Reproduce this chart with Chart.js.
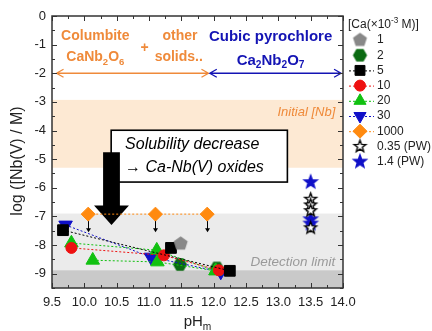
<!DOCTYPE html>
<html><head><meta charset="utf-8">
<script src="https://cdn.jsdelivr.net/npm/chart.js@4/dist/chart.umd.min.js"></script>
<style>html,body{margin:0;padding:0;background:#fff;}canvas{display:block;}</style>
</head><body>
<canvas id="c" width="432" height="331"></canvas>
<script>
// ---------- data ----------
const xTicks = [9.5,10.0,10.5,11.0,11.5,12.0,12.5,13.0,13.5,14.0];
const yTicks = [0,-1,-2,-3,-4,-5,-6,-7,-8,-9];
const seriesLabels = ['1','2','5','10','20','30','1000','0.35 (PW)','1.4 (PW)'];
const ca1 = [{x:11.49,y:-7.95}];
const ca2 = [{x:12.05,y:-8.80},{x:11.48,y:-8.68}];
const ca5 = [{x:9.67,y:-7.48},{x:12.25,y:-8.90},{x:12.25,y:null},{x:11.34,y:-8.10}];
const ca10 = [{x:9.80,y:-8.10},{x:11.23,y:-8.36},{x:12.08,y:-8.88}];
const ca20 = [{x:9.80,y:-7.93},{x:11.12,y:-8.18},{x:12.03,y:-8.90},{x:12.03,y:null},{x:10.13,y:-8.53},{x:11.13,y:-8.59},{x:12.03,y:-8.90}];
const ca30 = [{x:9.71,y:-7.30},{x:11.03,y:-8.42},{x:12.11,y:-8.94}];
const ca1000 = [{x:10.06,y:-6.92},{x:11.10,y:-6.92},{x:11.90,y:-6.92}];
const pw035 = [{x:13.5,y:-6.40},{x:13.5,y:-6.60},{x:13.5,y:-6.80},{x:13.5,y:-7.40}];
const pw14 = [{x:13.5,y:-5.80},{x:13.5,y:-7.10},{x:13.5,y:-7.25}];
// bands / annotations (data units)
const initialNbBand = [-2.93,-5.30];
const detectBand = [-6.90,-8.88];
const detectDark = [-8.88,-9.5];

// ---------- custom marker images ----------
function polyImg(n, r, fill, stroke, rot, star){
  const s = Math.ceil(r*2+4), c = document.createElement('canvas');
  c.width = s; c.height = s;
  const g = c.getContext('2d'); const cx=s/2, cy=s/2;
  g.beginPath();
  const pts = star ? n*2 : n;
  for(let i=0;i<pts;i++){
    const a = -Math.PI/2 + rot + i*2*Math.PI/pts;
    const rr = star ? (i%2===0 ? r : r*0.42) : r;
    const px = cx + rr*Math.cos(a), py = cy + rr*Math.sin(a);
    if(i===0) g.moveTo(px,py); else g.lineTo(px,py);
  }
  g.closePath();
  g.fillStyle = fill; g.fill();
  g.lineWidth = 1.4; g.strokeStyle = stroke; g.stroke();
  return c;
}
const pentagon = polyImg(5, 6.5, '#888888', '#888888', 0, false);
const hexagon = polyImg(6, 6.3, '#0b6b12', '#0b6b12', Math.PI/6, false);
const starOpen = polyImg(5, 6.2, '#ffffff', '#000000', 0, true);
const starBlue = polyImg(5, 6.8, '#1010c8', '#1010c8', 0, true);

const COL = {gray:'#888888', dgreen:'#0b6b12', black:'#000000', red:'#ee1111', green:'#11c111', blue:'#1010c8', orange:'#ff8a10', text:'#222222'};
const ORANGE_T = '#ef8a3a', BLUE_T = '#1414b4';

function ds(label, data, color, style, radius, line, extra){
  return Object.assign({
    label, data, showLine: line, spanGaps:false,
    borderColor: color, backgroundColor: color,
    pointBackgroundColor: color, pointBorderColor: color,
    pointStyle: style, pointRadius: radius, pointHoverRadius: radius,
    pointBorderWidth: 1, borderWidth: 1, borderDash:[2,2]
  }, extra||{});
}

const datasets = [
  ds(seriesLabels[0], ca1, COL.gray, pentagon, 6, false),
  ds(seriesLabels[1], ca2, COL.dgreen, hexagon, 6, false, {order:10}),
  ds(seriesLabels[2], ca5, COL.black, 'rect', 7.6, true),
  ds(seriesLabels[3], ca10, COL.red, 'circle', 5.5, true),
  ds(seriesLabels[4], ca20, COL.green, 'triangle', 7.8, true),
  ds(seriesLabels[5], ca30, COL.blue, 'triangle', 7.8, true, {pointRotation:180}),
  ds(seriesLabels[6], ca1000, COL.orange, 'rectRot', 7, true),
  ds(seriesLabels[7], pw035, COL.black, starOpen, 6, false),
  ds(seriesLabels[8], pw14, COL.blue, starBlue, 6, false)
];

// ---------- helpers ----------
const FF = '"Liberation Sans", Arial, sans-serif';
function rich(ctx, parts, x, y, size, style, color, align){
  const meas = parts.map(p=>{
    const k = p[1]||null; const s = k ? size*0.68 : size;
    ctx.font = style+' '+s+'px '+FF;
    return {t:p[0], k, s, w:ctx.measureText(p[0]).width};
  });
  const W = meas.reduce((a,m)=>a+m.w,0);
  let cx = align==='left' ? x : align==='right' ? x-W : x-W/2;
  ctx.textAlign='left'; ctx.textBaseline='middle'; ctx.fillStyle=color;
  meas.forEach(m=>{
    ctx.font = style+' '+m.s+'px '+FF;
    const dy = m.k==='sub' ? size*0.32 : m.k==='sup' ? -size*0.33 : 0;
    ctx.fillText(m.t, cx, y+dy); cx += m.w;
  });
}
function dblArrow(ctx, x1, x2, y, color){
  ctx.save(); ctx.strokeStyle=color; ctx.lineWidth=1.3;
  ctx.beginPath(); ctx.moveTo(x1,y); ctx.lineTo(x2,y);
  ctx.moveTo(x1+7,y-4); ctx.lineTo(x1,y); ctx.lineTo(x1+7,y+4);
  ctx.moveTo(x2-7,y-4); ctx.lineTo(x2,y); ctx.lineTo(x2-7,y+4);
  ctx.stroke(); ctx.restore();
}

const decor = {
  id:'decor',
  beforeDatasetsDraw(chart){
    const {ctx, chartArea:a, scales:{x,y}} = chart;
    ctx.save();
    // bands
    ctx.fillStyle='#fde9d3';
    ctx.fillRect(a.left, y.getPixelForValue(initialNbBand[0]), a.width, y.getPixelForValue(initialNbBand[1])-y.getPixelForValue(initialNbBand[0]));
    ctx.fillStyle='#ebebeb';
    ctx.fillRect(a.left, y.getPixelForValue(detectBand[0]), a.width, y.getPixelForValue(detectBand[1])-y.getPixelForValue(detectBand[0]));
    ctx.fillStyle='#c9c9c9';
    ctx.fillRect(a.left, y.getPixelForValue(detectDark[0]), a.width, y.getPixelForValue(detectDark[1])-y.getPixelForValue(detectDark[0]));
    // band labels
    ctx.font='italic 13px '+FF; ctx.textAlign='right'; ctx.textBaseline='middle';
    ctx.fillStyle=ORANGE_T; ctx.fillText('Initial [Nb]', x.getPixelForValue(13.88), y.getPixelForValue(-3.36));
    ctx.fillStyle='#9a9a9a'; ctx.font='italic 13.5px '+FF;
    ctx.fillText('Detection limit', x.getPixelForValue(13.88), y.getPixelForValue(-8.6));
    // phase arrows
    const ya = y.getPixelForValue(-2);
    dblArrow(ctx, x.getPixelForValue(9.57), x.getPixelForValue(11.92), ya, ORANGE_T);
    dblArrow(ctx, x.getPixelForValue(11.94), x.getPixelForValue(13.97), ya, BLUE_T);
    // phase labels
    rich(ctx, [['Columbite']], x.getPixelForValue(10.17), y.getPixelForValue(-0.7), 14, 'bold', ORANGE_T, 'center');
    rich(ctx, [['CaNb'],['2','sub'],['O'],['6','sub']], x.getPixelForValue(10.17), y.getPixelForValue(-1.45), 14, 'bold', ORANGE_T, 'center');
    rich(ctx, [['+']], x.getPixelForValue(10.93), y.getPixelForValue(-1.12), 14, 'bold', ORANGE_T, 'center');
    rich(ctx, [['other']], x.getPixelForValue(11.48), y.getPixelForValue(-0.7), 14, 'bold', ORANGE_T, 'center');
    rich(ctx, [['solids..']], x.getPixelForValue(11.46), y.getPixelForValue(-1.45), 14, 'bold', ORANGE_T, 'center');
    rich(ctx, [['Cubic pyrochlore']], x.getPixelForValue(12.88), y.getPixelForValue(-0.73), 15, 'bold', BLUE_T, 'center');
    rich(ctx, [['Ca'],['2','sub'],['Nb'],['2','sub'],['O'],['7','sub']], x.getPixelForValue(12.88), y.getPixelForValue(-1.55), 15, 'bold', BLUE_T, 'center');
    // box
    const bx1=x.getPixelForValue(10.415), bx2=x.getPixelForValue(13.14), by1=y.getPixelForValue(-3.99), by2=y.getPixelForValue(-5.8);
    ctx.fillStyle='#ffffff'; ctx.fillRect(bx1,by1,bx2-bx1,by2-by1);
    ctx.strokeStyle='#000'; ctx.lineWidth=1.6; ctx.strokeRect(bx1,by1,bx2-bx1,by2-by1);
    rich(ctx, [['Solubility decrease']], x.getPixelForValue(10.63), y.getPixelForValue(-4.5), 16, 'italic', '#000', 'left');
    rich(ctx, [['\u2192 Ca-Nb(V) oxides']], x.getPixelForValue(10.63), y.getPixelForValue(-5.3), 16, 'italic', '#000', 'left');
    // big arrow
    ctx.fillStyle='#000';
    ctx.beginPath();
    ctx.moveTo(x.getPixelForValue(10.29), y.getPixelForValue(-4.76));
    ctx.lineTo(x.getPixelForValue(10.55), y.getPixelForValue(-4.76));
    ctx.lineTo(x.getPixelForValue(10.55), y.getPixelForValue(-6.62));
    ctx.lineTo(x.getPixelForValue(10.69), y.getPixelForValue(-6.62));
    ctx.lineTo(x.getPixelForValue(10.42), y.getPixelForValue(-7.3));
    ctx.lineTo(x.getPixelForValue(10.15), y.getPixelForValue(-6.62));
    ctx.lineTo(x.getPixelForValue(10.29), y.getPixelForValue(-6.62));
    ctx.closePath(); ctx.fill();
    ctx.restore();
  },
  afterDatasetsDraw(chart){
    const {ctx} = chart;
    ctx.save();
    // small arrows under 1000 mM points (upper limits)
    const meta = chart.getDatasetMeta(6);
    ctx.strokeStyle='#000'; ctx.fillStyle='#000'; ctx.lineWidth=1;
    meta.data.forEach(pt=>{
      const px=Math.round(pt.x)+0.5, p0=pt.y+7, p1=pt.y+18;
      ctx.beginPath(); ctx.moveTo(px,p0); ctx.lineTo(px,p1-3); ctx.stroke();
      ctx.beginPath(); ctx.moveTo(px-2.5,p1-4); ctx.lineTo(px+2.5,p1-4); ctx.lineTo(px,p1); ctx.closePath(); ctx.fill();
    });
    ctx.restore();
  },
  afterDraw(chart){
    const {ctx, chartArea:a, scales:{x,y}} = chart;
    ctx.save();
    ctx.strokeStyle='#333'; ctx.lineWidth=1.5;
    ctx.strokeRect(a.left, a.top, a.width, a.height);
    ctx.lineWidth=1;
    ctx.beginPath();
    for(let v=9.5; v<=14.0001; v+=0.25){
      const px = Math.round(x.getPixelForValue(v))+0.5;
      const L = Math.abs(v*2-Math.round(v*2))<1e-6 ? 5 : 3;
      ctx.moveTo(px,a.bottom); ctx.lineTo(px,a.bottom-L);
      ctx.moveTo(px,a.top); ctx.lineTo(px,a.top+L);
    }
    for(let v=0; v>=-9.5001; v-=0.5){
      const py = Math.round(y.getPixelForValue(v))+0.5;
      const L = Math.abs(v-Math.round(v))<1e-6 ? 5 : 3;
      ctx.moveTo(a.left,py); ctx.lineTo(a.left+L,py);
      ctx.moveTo(a.right,py); ctx.lineTo(a.right-L,py);
    }
    ctx.stroke();
    // axis titles
    rich(ctx, [['pH'],['m','sub']], (a.left+a.right)/2, 322, 15, '', '#222', 'center');
    ctx.translate(18, (a.top+a.bottom)/2+9);
    ctx.rotate(-Math.PI/2);
    rich(ctx, [['log ([Nb(V) / M)']], 0, 0, 16, '', '#222', 'center');
    ctx.restore();
    // legend
    ctx.save();
    const lx = a.right + 5;
    rich(ctx, [['[Ca(\u00d710'],['-3','sup'],[' M)]']], lx, 25, 12, '', '#222', 'left');
    chart.data.datasets.forEach((d,i)=>{
      const yy = 40 + i*15.2, mx = lx+12;
      if(d.showLine){
        ctx.save(); ctx.strokeStyle=d.borderColor; ctx.lineWidth=1; ctx.setLineDash([2,2]);
        ctx.beginPath(); ctx.moveTo(lx+1,yy+0.5); ctx.lineTo(lx+26,yy+0.5); ctx.stroke(); ctx.restore();
      }
      ctx.fillStyle=d.pointBackgroundColor; ctx.strokeStyle=d.pointBorderColor; ctx.lineWidth=1;
      Chart.helpers.drawPoint(ctx, {pointStyle:d.pointStyle, radius:Math.min(d.pointRadius,7), rotation:d.pointRotation||0, borderWidth:1}, mx, yy);
      ctx.font='12px '+FF; ctx.fillStyle='#222'; ctx.textAlign='left'; ctx.textBaseline='middle';
      ctx.fillText(d.label, lx+29, yy);
    });
    ctx.restore();
  }
};

new Chart(document.getElementById('c'), {
  type:'scatter',
  data:{datasets},
  options:{
    responsive:false, animation:false, devicePixelRatio:1,
    layout:{padding:{top:16, right:89, left:0, bottom:0}},
    plugins:{legend:{display:false}, tooltip:{enabled:false}},
    scales:{
      x:{type:'linear', min:9.5, max:14,
        afterBuildTicks(s){ s.ticks = xTicks.map(v=>({value:v})); },
        afterFit(s){ s.height = 43; },
        ticks:{padding:7, color:'#222', font:{size:13, family:FF}, maxRotation:0, autoSkip:false, callback:v=>Number(v).toFixed(1)},
        grid:{display:false, drawTicks:false}, border:{display:false}},
      y:{type:'linear', min:-9.5, max:0,
        afterBuildTicks(s){ s.ticks = yTicks.map(v=>({value:v})); },
        afterFit(s){ s.width = 52; },
        ticks:{padding:6, color:'#222', font:{size:13, family:FF}, autoSkip:false, callback:v=>String(v)},
        grid:{display:false, drawTicks:false}, border:{display:false}}
    }
  },
  plugins:[decor]
});
</script>
</body></html>
